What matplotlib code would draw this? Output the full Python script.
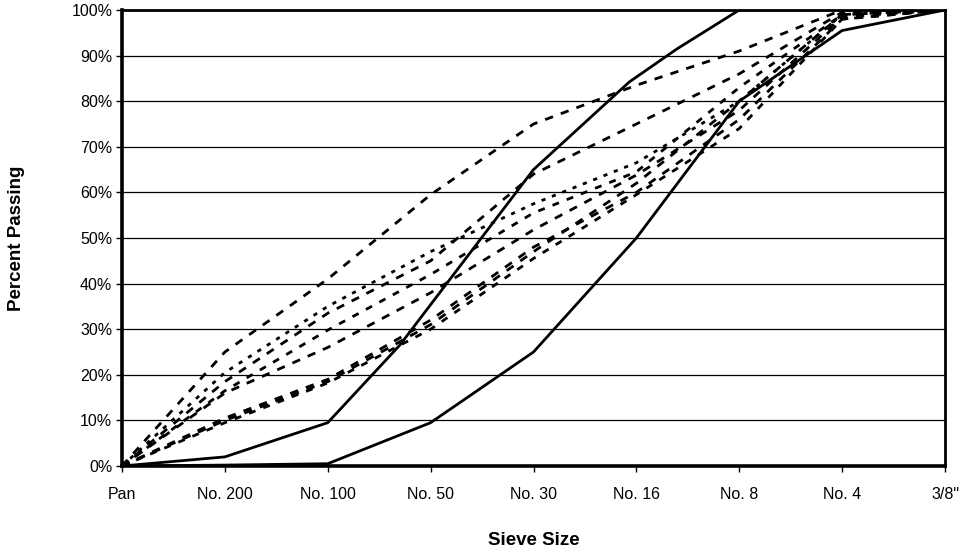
import matplotlib
matplotlib.use("Agg")
import matplotlib.pyplot as plt
from matplotlib.ticker import PercentFormatter

plt.rcParams['font.family'] = ['Liberation Sans', 'DejaVu Sans']

# sieve sizes, evenly spaced on the chart
sieves = ['Pan', 'No. 200', 'No. 100', 'No. 50', 'No. 30', 'No. 16', 'No. 8', 'No. 4', '3/8"']
sieve_pos = list(range(len(sieves)))

# specification envelope (solid lines); some breaks fall between sieves
upper_x = [0, 1, 2, 2.7, 4, 4.93, 5.39, 6, 7, 8]
upper_y = [0, 2, 9.5, 26.5, 65, 84.2, 91.4, 100, 100, 100]
lower_x = [0, 1, 2, 3, 4, 5, 6, 7, 8]
lower_y = [0, 0.2, 0.5, 9.5, 25, 50, 80, 95.5, 100]

# measured gradations (dashed lines), percent passing at each sieve
grad_1 = [0, 25, 41, 59.5, 75, 83.5, 91, 100, 100]
grad_2 = [0, 20.5, 35, 47, 57.5, 66.5, 80, 99, 100]
grad_3 = [0, 18.5, 33.5, 45, 64, 75, 86, 99.5, 100]
grad_4 = [0, 16.5, 29.8, 42, 55.5, 64.5, 83, 99, 100]
grad_5 = [0, 16, 26, 38, 51.8, 63.8, 78, 98.5, 100]
grad_6 = [0, 10.5, 19, 32, 48, 60, 76, 98, 100]
grad_7 = [0, 9.5, 18.2, 30, 45.5, 59.5, 74, 98, 100]
grad_8 = [0, 10, 18.5, 31, 47, 62, 80, 99, 100]

gradations = [grad_1, grad_2, grad_3, grad_4, grad_5, grad_6, grad_7, grad_8]
dash_styles = [(3, 3), (1.5, 2.5), (3, 3), (2.5, 3), (3, 3), (3, 3), (2.5, 3), (3, 3)]

fig = plt.figure(figsize=(9.59, 5.57), dpi=100)
ax = fig.add_axes([122 / 959, 91 / 557, 823 / 959, 456 / 557])

for y in range(10, 100, 10):
    ax.axhline(y, color='black', lw=0.9, zorder=1)

for vals, dash in zip(gradations, dash_styles):
    ax.plot(sieve_pos, vals, color='black', lw=2.0, linestyle=(0, dash), zorder=3)

ax.plot(upper_x, upper_y, color='black', lw=2.0, zorder=4)
ax.plot(lower_x, lower_y, color='black', lw=2.0, zorder=4)

ax.set_xlim(0, 8)
ax.set_ylim(0, 100)
ax.set_xticks(sieve_pos)
ax.set_xticklabels(sieves)
ax.set_yticks(range(0, 101, 10))
ax.yaxis.set_major_formatter(PercentFormatter(decimals=0))

ax.tick_params(axis='x', direction='out', length=4, width=1, pad=11, labelsize=11.5)
ax.tick_params(axis='y', direction='out', length=4, width=1, pad=3, labelsize=11.5)

for side in ['left', 'bottom']:
    ax.spines[side].set_linewidth(2.6)
for side in ['right', 'top']:
    ax.spines[side].set_linewidth(2.0)

ax.set_xlabel('Sieve Size', fontsize=13.5, fontweight='bold', labelpad=22)
ax.set_ylabel('Percent Passing', fontsize=13.5, fontweight='bold', labelpad=33)

fig.savefig('out.png', dpi=100)
